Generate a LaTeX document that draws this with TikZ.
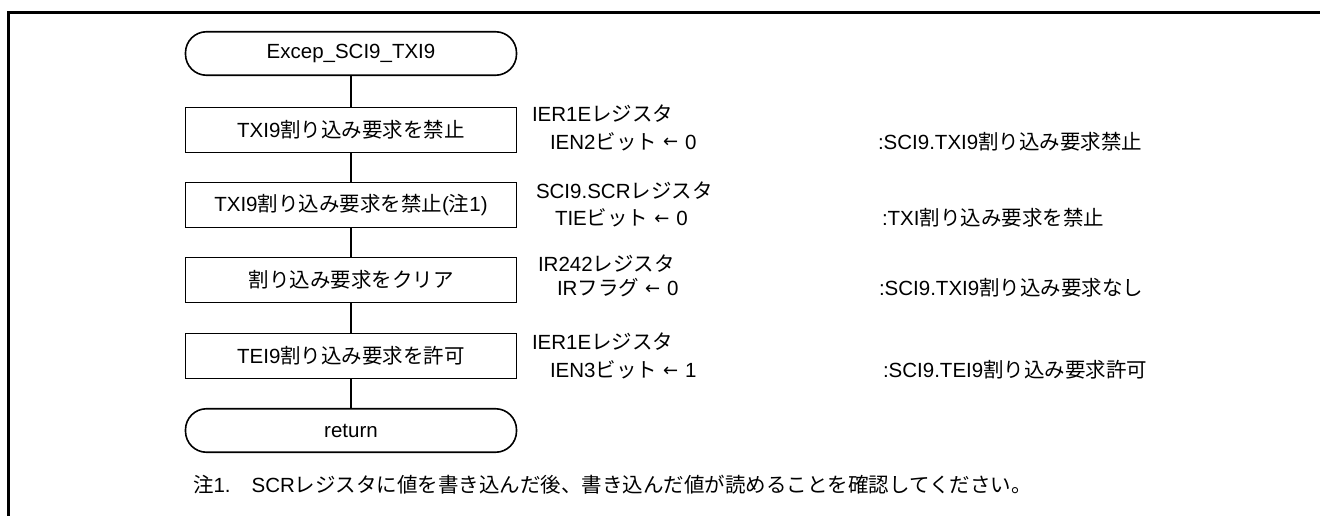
\documentclass[tikz,border=0pt]{standalone}
\usepackage{fontspec}
\setmainfont{Liberation Sans}
\newfontfamily\jpfont{Noto Sans CJK JP}
\newfontfamily\dvfont{DejaVu Sans}
\newcommand\jt[1]{{\jpfont #1}}
\newcommand\larrow{\hspace{6pt}\raisebox{1.5pt}{\fontsize{18}{18}\selectfont\dvfont ←}\hspace{7pt}}
\begin{document}
\begin{tikzpicture}[x=1pt,y=-1pt,
  every node/.style={inner sep=0pt, outer sep=0pt},
  font=\fontsize{20.5}{24}\selectfont,
  term/.style={draw, line width=1.6pt, rounded corners=21pt, minimum width=331pt, minimum height=43.5pt},
  proc/.style={draw, line width=1.6pt, minimum width=331pt, minimum height=45pt},
  lbl/.style={anchor=base west},
  conn/.style={line width=1.6pt}]
\useasboundingbox (0,0) rectangle (1320,516);
\draw[line width=3pt] (8.5,516) -- (8.5,12.5) -- (1320,12.5);

\node[term] (start) at (351,53.5) {Excep\_SCI9\_TXI9};
\node[proc] (b1) at (351,130) {TXI9\jt{割り込み要求を禁止}};
\node[proc] (b2) at (351,205) {TXI9\jt{割り込み要求を禁止}(\jt{注}1)};
\node[proc] (b3) at (351,280) {\jt{割り込み要求をクリア}};
\node[proc] (b4) at (351,356) {TEI9\jt{割り込み要求を許可}};
\node[term] (ret) at (351,430.5) {return};

\draw[conn] (start) -- (b1);
\draw[conn] (b1) -- (b2);
\draw[conn] (b2) -- (b3);
\draw[conn] (b3) -- (b4);
\draw[conn] (b4) -- (ret);

\node[lbl] (l1a) at (532,121.5) {IER1E\jt{レジスタ}};
\node[lbl] (l1b) at (550,149.5) {IEN2\jt{ビット}\larrow{}0};
\node[lbl] (c1) at (878,149.5) {:SCI9.TXI9\jt{割り込み要求禁止}};

\node[lbl] (l2a) at (536,198.5) {SCI9.SCR\jt{レジスタ}};
\node[lbl] (l2b) at (555,225.5) {TIE\jt{ビット}\larrow{}0};
\node[lbl] (c2) at (882,225.5) {:TXI\jt{割り込み要求を禁止}};

\node[lbl] (l3a) at (538,271.5) {IR242\jt{レジスタ}};
\node[lbl] (l3b) at (557,295.5) {IR\jt{フラグ}\larrow{}0};
\node[lbl] (c3) at (879,295.5) {:SCI9.TXI9\jt{割り込み要求なし}};

\node[lbl] (l4a) at (532,349.5) {IER1E\jt{レジスタ}};
\node[lbl] (l4b) at (550,377.5) {IEN3\jt{ビット}\larrow{}1};
\node[lbl] (c4) at (883,377.5) {:SCI9.TEI9\jt{割り込み要求許可}};

\node[lbl] (note) at (193,492.5) {\jt{注}1.\hspace{21pt}SCR\jt{レジスタに値を書き込んだ後、書き込んだ値が読めることを確認してください。}};
\end{tikzpicture}
\end{document}
